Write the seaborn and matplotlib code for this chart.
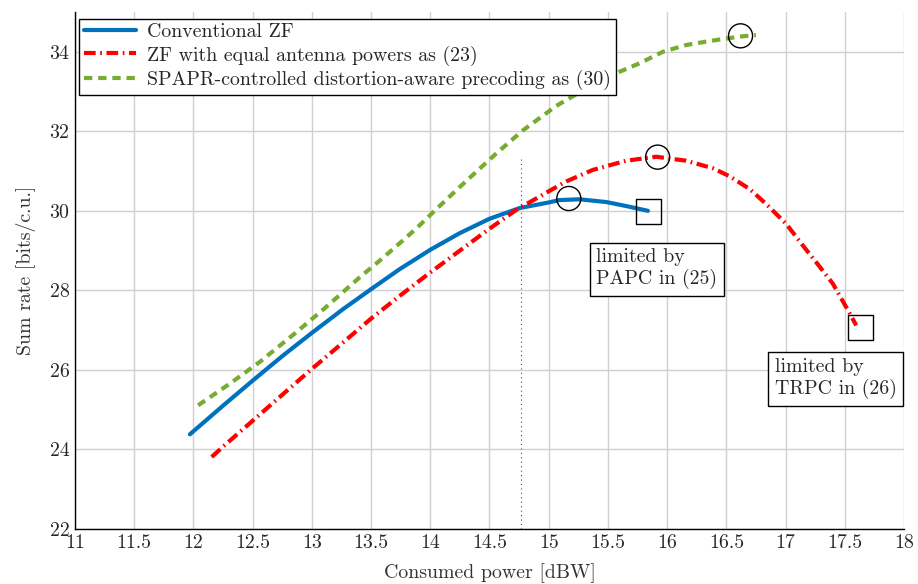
import numpy as np
import pandas as pd
import seaborn as sns
import matplotlib.pyplot as plt

# curve samples
blue_x = [11.97, 12.25, 12.5, 12.76, 13.0, 13.26, 13.5, 13.74, 14.0, 14.25,
          14.5, 14.755, 15.0, 15.09, 15.26, 15.487, 15.655, 15.838]
blue_y = [24.38, 25.1, 25.73, 26.37, 26.93, 27.52, 28.03, 28.53, 29.02, 29.44,
          29.8, 30.07, 30.21, 30.27, 30.29, 30.22, 30.12, 30.0]

red_x = [12.154, 12.25, 12.5, 12.76, 13.01, 13.26, 13.5, 13.75, 14.0, 14.25,
         14.5, 14.725, 15.0, 15.149, 15.374, 15.655, 15.908, 16.16, 16.387,
         16.527, 16.696, 16.837, 17.006, 17.146, 17.287, 17.399, 17.512, 17.597]
red_y = [23.81, 24.07, 24.72, 25.4, 26.05, 26.68, 27.29, 27.88, 28.45, 29.0,
         29.55, 30.02, 30.49, 30.74, 31.03, 31.26, 31.36, 31.26, 31.07,
         30.87, 30.55, 30.17, 29.67, 29.13, 28.6, 28.17, 27.58, 27.12]

green_x = [12.04, 12.31, 12.56, 12.87, 13.12, 13.405, 13.574, 13.74, 13.88, 14.04,
           14.26, 14.56, 14.785, 15.065, 15.33, 15.585, 15.768, 15.965, 16.162,
           16.36, 16.61, 16.75]
green_y = [25.11, 25.66, 26.2, 26.95, 27.58, 28.33, 28.75, 29.18, 29.55, 30.01,
           30.63, 31.45, 32.03, 32.64, 33.1, 33.48, 33.71, 34.0, 34.17,
           34.27, 34.38, 34.42]

labels = ['Conventional ZF',
          'ZF with equal antenna powers as (23)',
          'SPAPR-controlled distortion-aware precoding as (30)']

# optimum points (circles) and constraint-limited end points (squares)
opt_x = [15.17, 15.92, 16.62]
opt_y = [30.31, 31.35, 34.4]
lim_x = [15.84, 17.63]
lim_y = [29.99, 27.07]
split_x = 14.77

x_ticks = np.arange(11, 18.01, 0.5)
y_ticks = np.arange(22, 34.01, 2)

df = pd.concat([
    pd.DataFrame({'x': blue_x, 'y': blue_y, 'scheme': labels[0]}),
    pd.DataFrame({'x': red_x, 'y': red_y, 'scheme': labels[1]}),
    pd.DataFrame({'x': green_x, 'y': green_y, 'scheme': labels[2]}),
])

sns.set_theme(style='whitegrid')
plt.rcParams['font.family'] = ['cmr10', 'DejaVu Serif']
plt.rcParams['mathtext.fontset'] = 'cm'
plt.rcParams['axes.formatter.use_mathtext'] = True

colors = {labels[0]: '#0072BD', labels[1]: '#FF0000', labels[2]: '#77AC30'}
dashes = {labels[0]: '', labels[1]: (2.8, 1.1, 0.4, 1.1), labels[2]: (2, 1.4)}

fs = 14.3

fig = plt.figure(figsize=(9.18, 5.84), dpi=100)
ax = fig.add_axes([0.0817, 0.0942, 0.9030, 0.8853])

sns.lineplot(data=df, x='x', y='y', hue='scheme', style='scheme', palette=colors,
             dashes=dashes, linewidth=3, sort=False, ax=ax)

ax.plot([split_x, split_x], [22, max(red_y) - 0.02], color='#555555', lw=0.8,
        ls=(0, (1, 3)))
ax.scatter(opt_x, opt_y, s=300, facecolors='none', edgecolors='black', linewidths=1, zorder=5)
ax.scatter(lim_x, lim_y, s=330, marker='s', facecolors='none', edgecolors='black',
           linewidths=1, zorder=5)

box = dict(boxstyle='square,pad=0.33', fc='white', ec='black', lw=1)
ax.text(15.40, 29.06, 'limited by\nPAPC in (25)', fontsize=fs, va='top', ha='left',
        bbox=box, linespacing=1.2)
ax.text(16.91, 26.3, 'limited by\nTRPC in (26)', fontsize=fs, va='top', ha='left',
        bbox=box, linespacing=1.2)

ax.set_xlim(11, 18)
ax.set_ylim(22, 35)
ax.set_xticks(x_ticks)
ax.set_yticks(y_ticks)
ax.set_xticklabels([f'{v:g}' for v in x_ticks])
ax.set_yticklabels([f'{v:g}' for v in y_ticks])
ax.tick_params(labelsize=fs, direction='in', length=3, color='black', pad=4)
ax.grid(True, color='#d0d0d0', lw=1)
for s in ['top', 'right']:
    ax.spines[s].set_visible(False)
for s in ['left', 'bottom']:
    ax.spines[s].set_color('black')
    ax.spines[s].set_linewidth(1)
ax.set_xlabel('Consumed power [dBW]', fontsize=fs, color='#333333', labelpad=8)
ax.set_ylabel('Sum rate [bits/c.u.]', fontsize=fs, color='#333333', labelpad=10)

leg = ax.legend(loc='upper left', bbox_to_anchor=(0.0, 0.995), fontsize=fs, fancybox=False,
                framealpha=1, edgecolor='black', handlelength=2.6, borderpad=0.25,
                labelspacing=0.2, handletextpad=0.6, borderaxespad=0.2)
leg.get_frame().set_linewidth(1)

fig.savefig('out.png', dpi=100)
